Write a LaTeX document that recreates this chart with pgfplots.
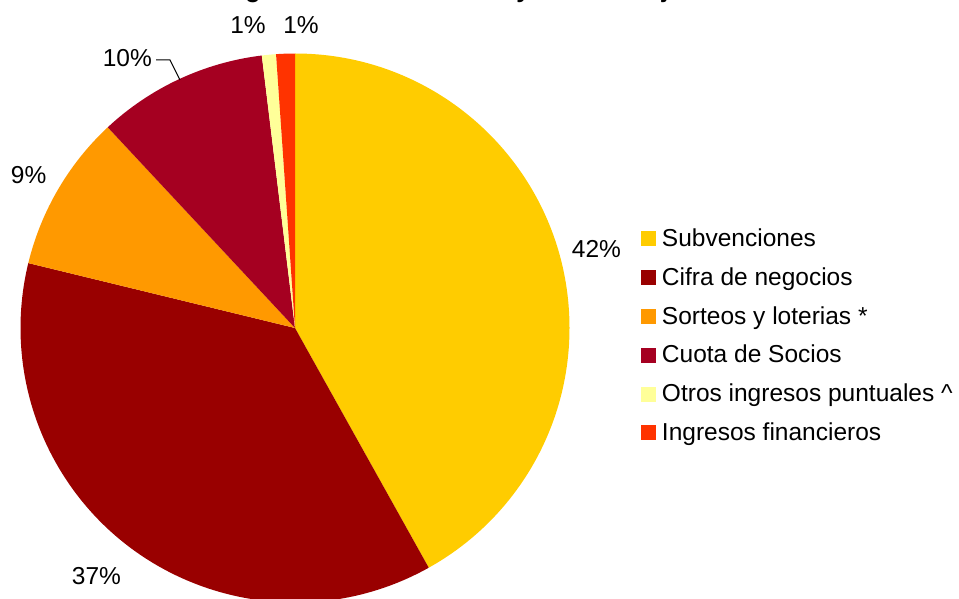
\documentclass[border=0pt]{standalone}
\usepackage{pgfplots}
\usepackage{pgfplotstable}
\pgfplotsset{compat=1.18}
\usepackage{fontspec}
\setmainfont{Liberation Sans}

\definecolor{cSub}{HTML}{FFCC00}
\definecolor{cCif}{HTML}{990000}
\definecolor{cSor}{HTML}{FF9900}
\definecolor{cCuo}{HTML}{A50021}
\definecolor{cOtr}{HTML}{FFFF99}
\definecolor{cIng}{HTML}{FF3300}

\pgfplotstableread[col sep=comma]{
label,value,color
Subvenciones,41.9,cSub
Cifra de negocios,36.9,cCif
Sorteos y loterias *,9.25,cSor
Cuota de Socios,10.02,cCuo
Otros ingresos puntuales,0.83,cOtr
Ingresos financieros,1.1,cIng
}\piedata

\newcommand{\lblfont}{\fontsize{24.5}{29}\selectfont}

\begin{document}
\begin{tikzpicture}
\begin{axis}[
  hide axis, scale only axis,
  width=959pt, height=598pt,
  xmin=0, xmax=959, ymin=0, ymax=598,
  clip=false,
  legend cell align=left,
  legend image code/.code={\fill[#1, draw=none] (0pt,-7.5pt) rectangle (15pt,7.5pt);},
  legend style={at={(0.66840,0.62124)}, anchor=north west, draw=none, fill=none,
    inner sep=0pt, outer sep=0pt, font=\lblfont,
    nodes={inner sep=0pt, text height=20pt, text depth=5pt, anchor=west},
    row sep=13.8pt, column sep=6pt},
]
\coordinate (bl) at (axis cs:0,0);
\coordinate (tr) at (axis cs:959,598);
\def\cum{0}
\pgfplotsforeachungrouped \i in {0,...,5}{%
  \pgfplotstablegetelem{\i}{value}\of\piedata \let\v\pgfplotsretval
  \pgfplotstablegetelem{\i}{color}\of\piedata \let\c\pgfplotsretval
  \pgfmathsetmacro\sa{90-3.6*\cum}%
  \pgfmathsetmacro\ea{90-3.6*(\cum+\v)}%
  \edef\temp{\noexpand\fill[\c] (axis cs:295,270) -- ++(\sa:274.5pt) arc[start angle=\sa, end angle=\ea, radius=274.5pt] -- cycle;}%
  \temp
  \pgfmathsetmacro\cum{\cum+\v}%
}
\addlegendimage{fill=cSub, draw=none}\addlegendentry{Subvenciones}
\addlegendimage{fill=cCif, draw=none}\addlegendentry{Cifra de negocios}
\addlegendimage{fill=cSor, draw=none}\addlegendentry{Sorteos y loterias *}
\addlegendimage{fill=cCuo, draw=none}\addlegendentry{Cuota de Socios}
\addlegendimage{fill=cOtr, draw=none}\addlegendentry{Otros ingresos puntuales \^{}}
\addlegendimage{fill=cIng, draw=none}\addlegendentry{Ingresos financieros}

\node[anchor=base, font=\lblfont] at (axis cs:596.5,340.3) {42\%};
\node[anchor=base, font=\lblfont] at (axis cs:96.5,13.7) {37\%};
\node[anchor=base, font=\lblfont] at (axis cs:28.7,414.7) {9\%};
\node[anchor=base, font=\lblfont] at (axis cs:127.3,531.3) {10\%};
\node[anchor=base, font=\lblfont] at (axis cs:248,564.7) {1\%};
\node[anchor=base, font=\lblfont] at (axis cs:301,564.7) {1\%};
\draw[black, line width=1pt] (axis cs:156,538) -- (axis cs:170,538) -- (axis cs:180,518);

\node[anchor=base west, font=\bfseries\fontsize{25}{30}\selectfont, inner sep=0pt] at (axis cs:209,600.5) {Origen de Recursos 2012 y Total del Ejercicio};
\end{axis}
\pgfresetboundingbox
\path[use as bounding box] (bl) rectangle (tr);
\end{tikzpicture}
\end{document}
